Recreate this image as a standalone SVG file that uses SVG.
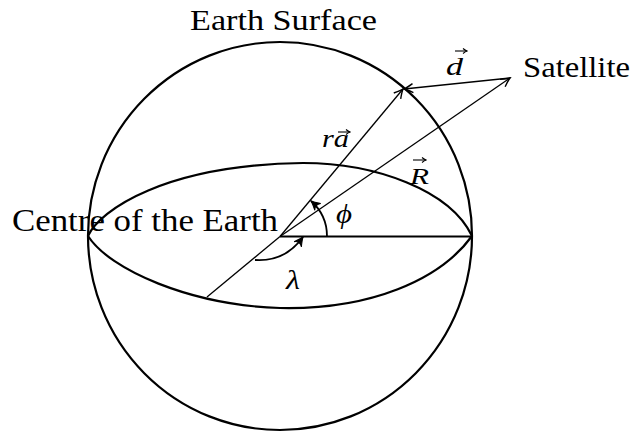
<svg xmlns="http://www.w3.org/2000/svg" width="635" height="433" viewBox="0 0 635 433">
<style>
.txt{font-family:"Liberation Serif","DejaVu Serif",serif;fill:#000}
.math{font-family:"Liberation Serif","DejaVu Serif",serif;font-style:italic;fill:#000}
.thick{fill:none;stroke:#000;stroke-width:2.2}
.vec{fill:none;stroke:#000;stroke-width:1.3}
.acc{fill:none;stroke:#000;stroke-width:1.1}
</style>
<defs>
<marker id="arr" viewBox="-11 -6 13 12" refX="0" refY="0" markerWidth="13" markerHeight="12" markerUnits="userSpaceOnUse" orient="auto">
<path d="M-9,-4.5 Q-3,-1 0,0 Q-3,1 -9,4.5" fill="none" stroke="#000" stroke-width="1.4"/>
</marker>
<marker id="arrf" viewBox="-11 -6 13 12" refX="0" refY="0" markerWidth="13" markerHeight="12" markerUnits="userSpaceOnUse" orient="auto">
<path d="M-9,-4.5 Q-3,-1 0,0 Q-3,1 -9,4.5 Q-5,0 -9,-4.5Z" fill="#000" stroke="#000" stroke-width="1"/>
</marker>
<marker id="acc" viewBox="-6 -4 7 8" refX="0" refY="0" markerWidth="7" markerHeight="8" markerUnits="userSpaceOnUse" orient="auto">
<path d="M-4,-2.5 Q-1.5,-0.5 0,0 Q-1.5,0.5 -4,2.5" fill="none" stroke="#000" stroke-width="1.1"/>
</marker>
</defs>

<g id="earth-sphere">
<ellipse cx="280" cy="236" rx="192" ry="194" class="thick"/>
</g>
<g id="equator">
<path class="thick" d="M88,236 C100,210 165,165 303,163 C375,163 450,190 472,236"/>
<path class="thick" d="M88,236 C110,270 190,305 280,308 C370,310 440,280 472,236"/>
</g>

<g id="connectors">
<path id="equator-radius" d="M280,236.5 L472,236.5" fill="none" stroke="#000" stroke-width="2"/>
<path id="meridian-radius" class="vec" d="M280,236.5 L207,297"/>
<path id="vec-ra" class="vec" d="M280,236.5 L403,89" marker-end="url(#arr)"/>
<path id="vec-R" class="vec" d="M280,236.5 L510,78" marker-end="url(#arr)"/>
<path id="vec-d" class="vec" d="M510,78 L404,89" marker-end="url(#arr)"/>
<path id="arc-phi" d="M327,236.5 A47,47 0 0 0 311,201" fill="none" stroke="#000" stroke-width="1.8" marker-end="url(#arrf)"/>
<path id="arc-lambda" d="M255,260 Q285,262 303,237" fill="none" stroke="#000" stroke-width="1.8" marker-end="url(#arrf)"/>
</g>

<g id="label-earth-surface">
<text class="txt" x="190" y="30" font-size="30" textLength="187" lengthAdjust="spacingAndGlyphs">Earth Surface</text>
</g>
<g id="label-satellite">
<text class="txt" x="523" y="77" font-size="30" textLength="107" lengthAdjust="spacingAndGlyphs">Satellite</text>
</g>
<g id="label-centre">
<text class="txt" x="12" y="231" font-size="31" textLength="266" lengthAdjust="spacingAndGlyphs">Centre of the Earth</text>
</g>
<g id="label-ra">
<text class="math" x="322" y="147" font-size="25" textLength="27" lengthAdjust="spacingAndGlyphs">ra</text>
<path class="acc" d="M338,132 L350,132" marker-end="url(#acc)"/>
</g>
<g id="label-R">
<text class="math" x="410" y="184" font-size="23" textLength="19" lengthAdjust="spacingAndGlyphs">R</text>
<path class="acc" d="M413,160 L426,160" marker-end="url(#acc)"/>
</g>
<g id="label-d">
<text class="math" x="446" y="75" font-size="26" textLength="17" lengthAdjust="spacingAndGlyphs">d</text>
<path class="acc" d="M455,51 L467,51" marker-end="url(#acc)"/>
</g>
<g id="label-phi">
<text class="math" x="336" y="223" font-size="28" textLength="16" lengthAdjust="spacingAndGlyphs">ϕ</text>
</g>
<g id="label-lambda">
<text class="math" x="286" y="289" font-size="28" textLength="14" lengthAdjust="spacingAndGlyphs">λ</text>
</g>
</svg>
